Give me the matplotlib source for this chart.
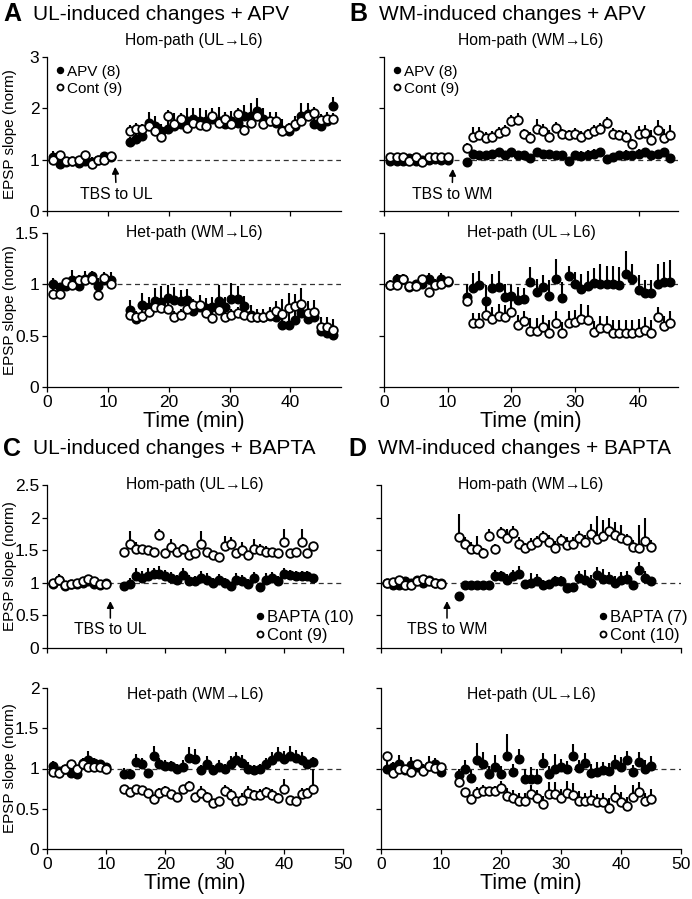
import numpy as np
import matplotlib
matplotlib.use("Agg")
import matplotlib.pyplot as plt

plt.rcParams['font.family'] = ['Liberation Sans', 'DejaVu Sans']

W, H = 692, 899

# time points (min)
t_base = np.arange(1, 11)
t_post = np.arange(13, 46)
a_stretch = 1.045  # panel A sampled slightly slower

# ---- A: UL-induced + APV ----
a_hom_apv = [1.05, 0.92, 0.95, 0.97, 0.93, 0.97, 0.95, 1.00, 1.08, 1.05,
             1.35, 1.40, 1.47, 1.72, 1.65, 1.55, 1.60, 1.65, 1.70, 1.75, 1.80, 1.75, 1.75, 1.80, 1.75, 1.70, 1.75,
             1.72, 1.85, 1.85, 1.95, 1.80, 1.75, 1.72, 1.58, 1.55, 1.65, 1.85, 1.88, 1.70, 1.65, 1.75, 2.05]
a_hom_apv_err = [0.12, 0.06, 0.05, 0.05, 0.06, 0.08, 0.10, 0.06, 0.06, 0.06,
                 0.10, 0.15, 0.18, 0.20, 0.20, 0.15, 0.22, 0.25, 0.20, 0.25, 0.20, 0.25, 0.22, 0.20, 0.28, 0.22, 0.20,
                 0.20, 0.22, 0.25, 0.25, 0.20, 0.18, 0.20, 0.22, 0.15, 0.20, 0.25, 0.22, 0.20, 0.20, 0.18, 0.18]
a_hom_cont = [1.00, 1.10, 0.97, 0.97, 1.00, 1.10, 0.92, 1.00, 1.00, 1.08,
              1.55, 1.60, 1.60, 1.65, 1.55, 1.45, 1.85, 1.70, 1.80, 1.62, 1.72, 1.68, 1.65, 1.85, 1.72, 1.80, 1.70,
              1.88, 1.58, 1.72, 1.85, 1.70, 1.75, 1.75, 1.55, 1.62, 1.70, 1.75, 1.85, 1.90, 1.78, 1.80, 1.80]
a_hom_cont_err = [0.05, 0.06, 0.04, 0.04, 0.05, 0.06, 0.05, 0.05, 0.05, 0.05,
                  0.12, 0.12, 0.10, 0.12, 0.10, 0.10, 0.12, 0.12, 0.10, 0.10, 0.12, 0.10, 0.10, 0.12, 0.10, 0.12, 0.10,
                  0.12, 0.10, 0.10, 0.12, 0.10, 0.10, 0.10, 0.10, 0.10, 0.10, 0.12, 0.10, 0.12, 0.10, 0.10, 0.10]
a_het_apv = [1.00, 0.97, 0.98, 1.04, 0.98, 1.05, 1.08, 0.98, 1.04, 1.04,
             0.75, 0.66, 0.80, 0.78, 0.84, 0.83, 0.87, 0.85, 0.84, 0.85, 0.74, 0.78, 0.77, 0.78, 0.84, 0.78, 0.86,
             0.86, 0.79, 0.70, 0.68, 0.68, 0.69, 0.68, 0.60, 0.60, 0.65, 0.72, 0.66, 0.68, 0.55, 0.53, 0.51]
a_het_apv_err = [0.06, 0.04, 0.05, 0.10, 0.06, 0.08, 0.05, 0.08, 0.08, 0.08,
                 0.10, 0.08, 0.12, 0.10, 0.12, 0.15, 0.12, 0.12, 0.10, 0.10, 0.10, 0.12, 0.10, 0.10, 0.15, 0.10, 0.15,
                 0.12, 0.10, 0.10, 0.08, 0.08, 0.08, 0.10, 0.15, 0.12, 0.15, 0.12, 0.12, 0.10, 0.12, 0.10, 0.10]
a_het_cont = [0.91, 0.91, 1.02, 0.99, 1.04, 1.04, 1.05, 0.90, 1.06, 1.00,
              0.70, 0.68, 0.69, 0.73, 0.78, 0.77, 0.76, 0.68, 0.70, 0.76, 0.80, 0.80, 0.72, 0.67, 0.75, 0.68, 0.70,
              0.72, 0.70, 0.68, 0.68, 0.68, 0.70, 0.74, 0.71, 0.77, 0.79, 0.81, 0.72, 0.73, 0.58, 0.58, 0.56]
a_het_cont_err = [0.04, 0.05, 0.04, 0.05, 0.05, 0.04, 0.05, 0.06, 0.05, 0.04,
                  0.06, 0.05, 0.06, 0.06, 0.06, 0.06, 0.06, 0.06, 0.06, 0.06, 0.06, 0.06, 0.06, 0.06, 0.06, 0.06, 0.06,
                  0.06, 0.06, 0.06, 0.06, 0.06, 0.08, 0.10, 0.15, 0.15, 0.12, 0.15, 0.12, 0.12, 0.10, 0.10, 0.10]

# ---- B: WM-induced + APV ----
b_hom_apv = [0.98, 0.97, 0.97, 1.03, 0.98, 1.00, 1.00, 1.02, 1.00, 1.00,
             0.95, 1.12, 1.10, 1.10, 1.12, 1.14, 1.10, 1.15, 1.10, 1.10, 1.04, 1.15, 1.12, 1.12, 1.10, 1.10, 0.98,
             1.10, 1.08, 1.10, 1.12, 1.14, 1.02, 1.06, 1.10, 1.10, 1.10, 1.12, 1.14, 1.10, 1.12, 1.15, 1.04]
b_hom_apv_err = [0.03, 0.03, 0.05, 0.06, 0.03, 0.03, 0.03, 0.03, 0.03, 0.03,
                 0.03, 0.05, 0.05, 0.05, 0.06, 0.06, 0.05, 0.06, 0.06, 0.06, 0.05, 0.08, 0.06, 0.06, 0.06, 0.06, 0.05,
                 0.06, 0.08, 0.08, 0.08, 0.08, 0.05, 0.06, 0.06, 0.08, 0.06, 0.08, 0.06, 0.06, 0.06, 0.06, 0.04]
b_hom_cont = [1.05, 1.05, 1.05, 0.98, 1.05, 0.96, 1.05, 1.05, 1.05, 1.05,
              1.22, 1.45, 1.48, 1.42, 1.45, 1.52, 1.55, 1.75, 1.78, 1.50, 1.42, 1.60, 1.55, 1.45, 1.62, 1.50, 1.48,
              1.50, 1.45, 1.50, 1.55, 1.60, 1.72, 1.50, 1.48, 1.45, 1.30, 1.50, 1.52, 1.38, 1.57, 1.42, 1.48]
b_hom_cont_err = [0.03, 0.03, 0.03, 0.03, 0.03, 0.03, 0.03, 0.03, 0.03, 0.03,
                  0.10, 0.18, 0.15, 0.12, 0.10, 0.12, 0.12, 0.12, 0.12, 0.10, 0.12, 0.20, 0.15, 0.12, 0.12, 0.10, 0.10,
                  0.12, 0.10, 0.10, 0.12, 0.12, 0.12, 0.12, 0.10, 0.12, 0.10, 0.15, 0.15, 0.20, 0.20, 0.18, 0.20]
b_het_apv = [0.99, 1.05, 1.05, 0.97, 1.00, 1.00, 1.05, 1.00, 1.05, 1.02,
             0.88, 0.96, 0.99, 0.84, 0.96, 0.97, 0.88, 0.89, 0.85, 0.86, 1.02, 0.93, 0.97, 0.89, 1.05, 0.87, 1.08,
             1.00, 0.95, 0.98, 1.01, 1.00, 1.00, 1.00, 0.99, 1.10, 1.05, 0.94, 0.92, 0.92, 1.00, 1.02, 1.02]
b_het_apv_err = [0.05, 0.05, 0.05, 0.04, 0.04, 0.05, 0.06, 0.05, 0.06, 0.05,
                 0.12, 0.15, 0.14, 0.15, 0.14, 0.16, 0.12, 0.10, 0.12, 0.10, 0.15, 0.12, 0.12, 0.15, 0.20, 0.15, 0.10,
                 0.12, 0.15, 0.15, 0.15, 0.20, 0.18, 0.18, 0.18, 0.22, 0.15, 0.15, 0.12, 0.12, 0.20, 0.20, 0.22]
b_het_cont = [0.99, 0.99, 1.05, 0.98, 0.98, 1.05, 0.93, 0.99, 1.00, 1.03,
              0.84, 0.62, 0.62, 0.70, 0.66, 0.69, 0.68, 0.73, 0.60, 0.64, 0.55, 0.55, 0.58, 0.53, 0.62, 0.53, 0.62,
              0.63, 0.66, 0.65, 0.54, 0.57, 0.57, 0.53, 0.53, 0.53, 0.53, 0.54, 0.56, 0.53, 0.68, 0.59, 0.62]
b_het_cont_err = [0.04, 0.03, 0.04, 0.03, 0.03, 0.04, 0.03, 0.03, 0.04, 0.03,
                  0.06, 0.10, 0.10, 0.10, 0.12, 0.12, 0.12, 0.12, 0.10, 0.10, 0.12, 0.12, 0.12, 0.12, 0.12, 0.10, 0.12,
                  0.12, 0.15, 0.15, 0.10, 0.12, 0.12, 0.12, 0.12, 0.12, 0.12, 0.12, 0.12, 0.12, 0.10, 0.10, 0.12]

# ---- C: UL-induced + BAPTA ----
c_hom_bapta = [0.98, 1.05, 0.95, 0.98, 0.98, 1.00, 1.02, 0.98, 0.96, 1.00,
               0.95, 0.98, 1.10, 1.08, 1.10, 1.13, 1.14, 1.10, 1.07, 1.04, 1.12, 1.02, 1.02, 1.08, 1.05, 1.00, 1.04,
               1.00, 0.95, 1.05, 1.02, 0.98, 1.08, 0.94, 1.05, 1.08, 1.02, 1.14, 1.12, 1.10, 1.10, 1.10, 1.08]
c_hom_bapta_err = [0.05, 0.08, 0.04, 0.04, 0.04, 0.04, 0.06, 0.04, 0.04, 0.04,
                   0.05, 0.10, 0.12, 0.10, 0.12, 0.10, 0.12, 0.10, 0.10, 0.08, 0.10, 0.10, 0.08, 0.10, 0.10, 0.08, 0.10,
                   0.08, 0.06, 0.10, 0.10, 0.08, 0.08, 0.06, 0.10, 0.08, 0.08, 0.08, 0.08, 0.08, 0.08, 0.08, 0.06]
c_hom_cont = [1.00, 1.05, 0.97, 0.98, 0.99, 1.02, 1.06, 1.02, 0.98, 0.98,
              1.47, 1.60, 1.52, 1.52, 1.50, 1.47, 1.73, 1.45, 1.55, 1.47, 1.52, 1.43, 1.46, 1.60, 1.48, 1.42, 1.40,
              1.57, 1.60, 1.45, 1.50, 1.43, 1.52, 1.50, 1.48, 1.47, 1.46, 1.63, 1.46, 1.47, 1.62, 1.46, 1.57]
c_hom_cont_err = [0.03, 0.03, 0.03, 0.03, 0.03, 0.03, 0.03, 0.03, 0.03, 0.03,
                  0.05, 0.20, 0.10, 0.05, 0.05, 0.05, 0.10, 0.05, 0.12, 0.05, 0.08, 0.05, 0.05, 0.20, 0.05, 0.05, 0.05,
                  0.15, 0.10, 0.05, 0.12, 0.05, 0.15, 0.10, 0.08, 0.05, 0.05, 0.20, 0.05, 0.05, 0.20, 0.05, 0.05]
c_het_bapta = [1.03, 0.97, 1.00, 0.95, 0.93, 1.07, 1.10, 1.07, 1.05, 1.02,
               0.93, 0.93, 1.08, 1.05, 0.94, 1.16, 1.05, 1.03, 1.03, 1.00, 1.02, 1.13, 1.12, 0.98, 1.05, 0.98, 1.02,
               1.00, 1.05, 1.10, 1.07, 1.00, 0.98, 1.00, 1.05, 1.10, 1.15, 1.12, 1.16, 1.13, 1.10, 1.05, 1.08]
c_het_bapta_err = [0.06, 0.04, 0.04, 0.06, 0.04, 0.06, 0.12, 0.06, 0.04, 0.04,
                   0.08, 0.06, 0.10, 0.08, 0.06, 0.12, 0.08, 0.08, 0.06, 0.06, 0.08, 0.14, 0.12, 0.06, 0.10, 0.06, 0.08,
                   0.06, 0.10, 0.10, 0.10, 0.08, 0.06, 0.06, 0.08, 0.10, 0.12, 0.10, 0.12, 0.10, 0.10, 0.06, 0.06]
c_het_cont = [0.96, 0.95, 1.00, 1.05, 1.00, 1.05, 1.02, 1.02, 1.02, 0.99,
              0.74, 0.71, 0.75, 0.73, 0.70, 0.62, 0.70, 0.72, 0.68, 0.65, 0.74, 0.78, 0.64, 0.70, 0.65, 0.57, 0.60,
              0.72, 0.67, 0.60, 0.61, 0.70, 0.67, 0.67, 0.71, 0.67, 0.63, 0.75, 0.61, 0.60, 0.68, 0.70, 0.74]
c_het_cont_err = [0.03, 0.03, 0.03, 0.03, 0.03, 0.03, 0.03, 0.03, 0.03, 0.03,
                  0.06, 0.05, 0.05, 0.05, 0.05, 0.05, 0.06, 0.06, 0.05, 0.05, 0.05, 0.06, 0.05, 0.08, 0.06, 0.05, 0.05,
                  0.08, 0.08, 0.06, 0.08, 0.08, 0.06, 0.08, 0.06, 0.08, 0.06, 0.12, 0.05, 0.05, 0.08, 0.06, 0.25]

# ---- D: WM-induced + BAPTA ----
d_hom_bapta = [0.99, 0.96, 0.97, 1.02, 1.00, 1.04, 1.00, 1.05, 1.00, 0.99,
               0.80, 0.96, 0.96, 0.97, 0.96, 0.97, 1.10, 1.10, 1.04, 1.10, 1.14, 0.98, 1.00, 1.03, 0.97, 0.98, 1.02,
               1.03, 0.92, 0.93, 1.08, 1.05, 1.00, 1.12, 1.06, 1.06, 1.00, 1.04, 1.06, 0.97, 1.20, 1.08, 1.02]
d_hom_bapta_err = [0.03, 0.03, 0.05, 0.06, 0.04, 0.06, 0.06, 0.03, 0.03, 0.03,
                   0.05, 0.05, 0.06, 0.06, 0.06, 0.05, 0.10, 0.08, 0.10, 0.10, 0.12, 0.06, 0.15, 0.10, 0.08, 0.06, 0.08,
                   0.08, 0.05, 0.05, 0.10, 0.15, 0.12, 0.12, 0.15, 0.10, 0.10, 0.12, 0.12, 0.05, 0.12, 0.10, 0.05]
d_hom_cont = [1.00, 1.01, 1.04, 0.96, 0.96, 1.02, 1.06, 1.02, 1.00, 0.98,
              1.70, 1.60, 1.52, 1.52, 1.45, 1.72, 1.52, 1.76, 1.68, 1.77, 1.60, 1.53, 1.58, 1.62, 1.70, 1.63, 1.54,
              1.65, 1.58, 1.60, 1.68, 1.63, 1.75, 1.67, 1.72, 1.80, 1.73, 1.68, 1.65, 1.55, 1.53, 1.64, 1.55]
d_hom_cont_err = [0.03, 0.03, 0.03, 0.03, 0.03, 0.05, 0.03, 0.03, 0.05, 0.06,
                  0.35, 0.10, 0.10, 0.20, 0.08, 0.10, 0.08, 0.10, 0.15, 0.10, 0.10, 0.08, 0.10, 0.10, 0.10, 0.10, 0.10,
                  0.10, 0.12, 0.10, 0.12, 0.10, 0.15, 0.35, 0.25, 0.20, 0.20, 0.20, 0.10, 0.10, 0.35, 0.35, 0.10]
d_het_bapta = [1.00, 1.02, 1.05, 0.98, 1.04, 1.02, 1.00, 1.03, 1.05, 0.96,
               0.92, 0.99, 0.88, 1.10, 1.06, 0.93, 1.02, 0.93, 1.15, 0.96, 1.12, 0.87, 0.87, 0.87, 1.07, 0.93, 1.00,
               1.02, 0.99, 1.15, 1.01, 1.07, 0.95, 0.96, 0.98, 0.97, 1.05, 1.02, 1.10, 0.96, 1.08, 1.00, 1.03]
d_het_bapta_err = [0.20, 0.06, 0.12, 0.06, 0.10, 0.06, 0.06, 0.12, 0.08, 0.08,
                   0.08, 0.12, 0.10, 0.22, 0.15, 0.10, 0.15, 0.10, 0.28, 0.10, 0.12, 0.12, 0.15, 0.12, 0.12, 0.10, 0.18,
                   0.10, 0.10, 0.15, 0.10, 0.12, 0.10, 0.12, 0.10, 0.10, 0.12, 0.12, 0.12, 0.08, 0.12, 0.10, 0.12]
d_het_cont = [1.16, 0.95, 0.99, 0.99, 0.96, 1.05, 0.97, 1.03, 1.01, 1.02,
              0.83, 0.71, 0.62, 0.69, 0.72, 0.72, 0.72, 0.76, 0.66, 0.63, 0.60, 0.60, 0.68, 0.63, 0.56, 0.68, 0.68,
              0.63, 0.70, 0.67, 0.60, 0.60, 0.61, 0.58, 0.58, 0.51, 0.65, 0.59, 0.53, 0.65, 0.71, 0.60, 0.62]
d_het_cont_err = [0.05, 0.03, 0.03, 0.03, 0.03, 0.03, 0.03, 0.03, 0.03, 0.03,
                  0.05, 0.05, 0.05, 0.08, 0.08, 0.05, 0.06, 0.08, 0.10, 0.10, 0.10, 0.10, 0.12, 0.10, 0.10, 0.15, 0.15,
                  0.12, 0.15, 0.15, 0.12, 0.10, 0.12, 0.10, 0.12, 0.12, 0.15, 0.12, 0.12, 0.15, 0.12, 0.10, 0.12]


fig = plt.figure(figsize=(W / 100, H / 100), dpi=100)


def make_ax(l, r, t, b):
    ax = fig.add_axes([l / W, 1 - b / H, (r - l) / W, (b - t) / H])
    for s in ['top', 'right']:
        ax.spines[s].set_visible(False)
    for s in ['left', 'bottom']:
        ax.spines[s].set_linewidth(0.9)
    ax.tick_params(direction='out', length=3.5, width=0.9, labelsize=12.5, pad=2)
    return ax


def draw(ax, t, drug, drug_err, cont, cont_err):
    ax.axhline(1, color='#333333', lw=0.9, ls=(0, (4, 3)), zorder=1)
    h1 = ax.errorbar(t, drug, yerr=[np.zeros(len(drug_err)), drug_err], fmt='o', ms=6.2,
                     mfc='black', mec='black', ecolor='black', elinewidth=1.5, capsize=0, zorder=3)
    h2 = ax.errorbar(t, cont, yerr=[np.zeros(len(cont_err)), cont_err], fmt='o', ms=6.2,
                     mfc='white', mec='black', mew=1.3, ecolor='black', elinewidth=1.5, capsize=0, zorder=4)
    return h1, h2


def section(x, y, letter, text):
    fig.text(x / W, 1 - y / H, letter, fontsize=18, fontweight='bold', va='center')
    fig.text((x + 30) / W, 1 - y / H, text, fontsize=15, va='center')


def path_title(ax, yfrac, text):
    ax.text(0.5, yfrac, text, transform=ax.transAxes, ha='center', va='center', fontsize=11.3)


def legend(ax, h, labels, anchor, loc, size):
    ax.legend(handles=[h[0][0], h[1][0]], labels=labels, loc=loc, bbox_to_anchor=anchor,
              frameon=False, handlelength=0.5, handletextpad=0.2, borderpad=0, borderaxespad=0,
              labelspacing=0.2, markerscale=0.7, fontsize=size)


def ylabel(ax):
    ax.set_ylabel('EPSP slope (norm)', fontsize=11)
    ax.yaxis.set_label_coords(-0.102, 0.5)


ta = np.r_[t_base, t_post] * a_stretch
t = np.r_[t_base, t_post]
arrow = dict(arrowstyle='-|>,head_length=0.35,head_width=0.18', color='black', lw=1.1, shrinkA=1, shrinkB=0)
tbs_size = 11.3

# ---------- A ----------
section(3, 14, 'A', 'UL-induced changes + APV')
ax = make_ax(47, 341, 57, 211)
h = draw(ax, ta, a_hom_apv, a_hom_apv_err, a_hom_cont, a_hom_cont_err)
ax.set_xlim(0, 48.3)
ax.set_ylim(0, 3)
ax.set_yticks([0, 1, 2, 3])
ax.set_xticks([0, 10, 20, 30, 40])
ax.set_xticklabels([])
path_title(ax, 1.11, 'Hom-path (UL\u2192L6)')
legend(ax, h, ['APV (8)', 'Cont (9)'], (0.03, 0.95), 'upper left', 11)
ax.annotate('TBS to UL', xy=(11.2, 0.86), xytext=(11.4, 0.33), ha='center', va='center', fontsize=tbs_size,
            arrowprops=arrow)
ylabel(ax)

ax = make_ax(47, 341, 233, 387)
draw(ax, ta, a_het_apv, a_het_apv_err, a_het_cont, a_het_cont_err)
ax.set_xlim(0, 48.3)
ax.set_ylim(0, 1.5)
ax.set_yticks([0, 0.5, 1, 1.5])
ax.set_yticklabels(['0', '0.5', '1', '1.5'])
ax.set_xticks([0, 10, 20, 30, 40])
path_title(ax, 1.0, 'Het-path (WM\u2192L6)')
ylabel(ax)
ax.set_xlabel('Time (min)', fontsize=15.5, labelpad=1)

# ---------- B ----------
section(349, 14, 'B', 'WM-induced changes + APV')
ax = make_ax(384, 678, 57, 211)
h = draw(ax, t, b_hom_apv, b_hom_apv_err, b_hom_cont, b_hom_cont_err)
ax.set_xlim(0, 46.2)
ax.set_ylim(0, 3)
ax.set_yticks([0, 1, 2, 3])
ax.set_yticklabels([])
ax.set_xticks([0, 10, 20, 30, 40])
ax.set_xticklabels([])
path_title(ax, 1.11, 'Hom-path (WM\u2192L6)')
legend(ax, h, ['APV (8)', 'Cont (9)'], (0.03, 0.95), 'upper left', 11)
ax.annotate('TBS to WM', xy=(10.8, 0.82), xytext=(10.7, 0.33), ha='center', va='center', fontsize=tbs_size,
            arrowprops=arrow)

ax = make_ax(384, 678, 233, 387)
draw(ax, t, b_het_apv, b_het_apv_err, b_het_cont, b_het_cont_err)
ax.set_xlim(0, 46.2)
ax.set_ylim(0, 1.5)
ax.set_yticks([0, 0.5, 1, 1.5])
ax.set_yticklabels([])
ax.set_xticks([0, 10, 20, 30, 40])
path_title(ax, 1.0, 'Het-path (UL\u2192L6)')
ax.set_xlabel('Time (min)', fontsize=15.5, labelpad=1)

# ---------- C ----------
section(3, 449, 'C', 'UL-induced changes + BAPTA')
ax = make_ax(47, 343, 485, 648)
h = draw(ax, t, c_hom_bapta, c_hom_bapta_err, c_hom_cont, c_hom_cont_err)
ax.set_xlim(0, 50)
ax.set_ylim(0, 2.5)
ax.set_yticks([0, 0.5, 1, 1.5, 2, 2.5])
ax.set_yticklabels(['0', '0.5', '1', '1.5', '2', '2.5'])
ax.set_xticks([0, 10, 20, 30, 40, 50])
ax.set_xticklabels([])
path_title(ax, 1.0, 'Hom-path (UL\u2192L6)')
legend(ax, h, ['BAPTA (10)', 'Cont (9)'], (0.705, 0.03), 'lower left', 12)
ax.annotate('TBS to UL', xy=(10.7, 0.72), xytext=(10.7, 0.28), ha='center', va='center', fontsize=tbs_size,
            arrowprops=arrow)
ylabel(ax)

ax = make_ax(47, 343, 688, 849)
draw(ax, t, c_het_bapta, c_het_bapta_err, c_het_cont, c_het_cont_err)
ax.set_xlim(0, 50)
ax.set_ylim(0, 2)
ax.set_yticks([0, 0.5, 1, 1.5, 2])
ax.set_yticklabels(['0', '0.5', '1', '1.5', '2'])
ax.set_xticks([0, 10, 20, 30, 40, 50])
path_title(ax, 0.96, 'Het-path (WM\u2192L6)')
ylabel(ax)
ax.set_xlabel('Time (min)', fontsize=15.5, labelpad=1)

# ---------- D ----------
section(348, 449, 'D', 'WM-induced changes + BAPTA')
ax = make_ax(381, 681, 485, 648)
h = draw(ax, t, d_hom_bapta, d_hom_bapta_err, d_hom_cont, d_hom_cont_err)
ax.set_xlim(0, 50)
ax.set_ylim(0, 2.5)
ax.set_yticks([0, 0.5, 1, 1.5, 2, 2.5])
ax.set_yticklabels([])
ax.set_xticks([0, 10, 20, 30, 40, 50])
ax.set_xticklabels([])
path_title(ax, 1.0, 'Hom-path (WM\u2192L6)')
legend(ax, h, ['BAPTA (7)', 'Cont (10)'], (0.725, 0.03), 'lower left', 12)
ax.annotate('TBS to WM', xy=(11.0, 0.72), xytext=(11.0, 0.28), ha='center', va='center', fontsize=tbs_size,
            arrowprops=arrow)

ax = make_ax(381, 681, 688, 849)
draw(ax, t, d_het_bapta, d_het_bapta_err, d_het_cont, d_het_cont_err)
ax.set_xlim(0, 50)
ax.set_ylim(0, 2)
ax.set_yticks([0, 0.5, 1, 1.5, 2])
ax.set_yticklabels([])
ax.set_xticks([0, 10, 20, 30, 40, 50])
path_title(ax, 0.96, 'Het-path (UL\u2192L6)')
ax.set_xlabel('Time (min)', fontsize=15.5, labelpad=1)

fig.savefig('out.png', dpi=100)
